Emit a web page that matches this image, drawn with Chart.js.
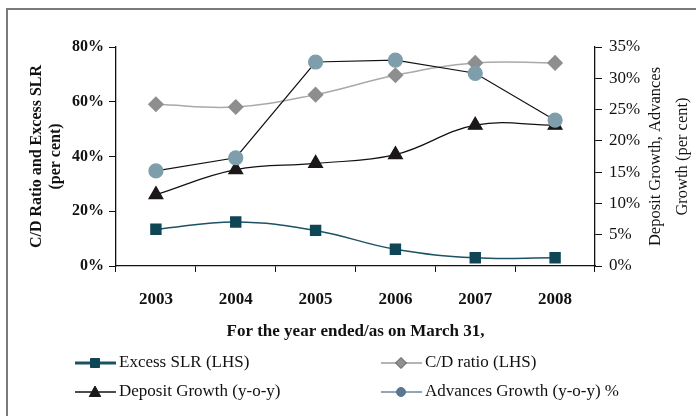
<!DOCTYPE html>
<html>
<head>
<meta charset="utf-8">
<script src="https://cdn.jsdelivr.net/npm/chart.js@4.4.1/dist/chart.umd.min.js"></script>
<style>
html, body { margin: 0; padding: 0; background: #fff; overflow: hidden; }
#wrap { position: relative; width: 696px; height: 416px; }
#frame { position: absolute; left: 6px; top: 8px; width: 740px; height: 460px; border: 2px solid #7a7a7a; box-sizing: border-box; }
canvas { position: absolute; left: 0; top: 0; }
</style>
</head>
<body>
<div id="wrap">
  <div id="frame"></div>
  <canvas id="chart" width="696" height="416"></canvas>
</div>
<script>
// values (per cent)
const years = ['2003', '2004', '2005', '2006', '2007', '2008'];
const excessSlr = [13.4, 16.1, 13.0, 6.1, 3.0, 3.0];        // LHS
const cdRatio = [59.1, 58.1, 62.6, 69.7, 74.2, 74.2];       // LHS
const depositGrowth = [11.4, 15.4, 16.4, 17.8, 22.5, 22.5]; // RHS
const advancesGrowth = [15.2, 17.3, 32.6, 32.9, 30.8, 23.3]; // RHS

const seriesNames = ['Excess SLR (LHS)', 'C/D ratio (LHS)', 'Deposit Growth (y-o-y)', 'Advances Growth (y-o-y) %'];
const leftTitle = ['C/D Ratio and Excess SLR', '(per cent)'];
const rightTitle = ['Deposit Growth, Advances', 'Growth (per cent)'];
const xTitle = 'For the year ended/as on March 31,';

const SERIF = '"Liberation Serif", "DejaVu Serif", serif';

function marker(ctx, style, x, y, r, fill, stroke) {
    ctx.save();
    ctx.fillStyle = fill;
    ctx.strokeStyle = stroke;
    ctx.lineWidth = 1;
    ctx.beginPath();
    if (style === 'rect') {
        ctx.rect(x - r, y - r, 2 * r, 2 * r);
    } else if (style === 'rectRot') {
        ctx.moveTo(x, y - r); ctx.lineTo(x + r, y); ctx.lineTo(x, y + r); ctx.lineTo(x - r, y); ctx.closePath();
    } else if (style === 'triangle') {
        ctx.moveTo(x, y - r); ctx.lineTo(x + r * 0.95, y + r * 0.75); ctx.lineTo(x - r * 0.95, y + r * 0.75); ctx.closePath();
    } else {
        ctx.arc(x, y, r, 0, Math.PI * 2);
    }
    ctx.fill();
    ctx.stroke();
    ctx.restore();
}

// 2x2 legend under the axis title
const gridLegend = {
    id: 'gridLegend',
    afterDraw(chart) {
        const ctx = chart.ctx;
        const cols = [75, 381];
        const rows = [363, 392];
        const look = [
            { line: '#1c5263', lw: 3, style: 'rect', r: 4.5, fill: '#0e4656' },
            { line: '#b4b4b4', lw: 2, style: 'rectRot', r: 5.5, fill: '#909090', stroke: '#555' },
            { line: '#111', lw: 1.3, style: 'triangle', r: 6, fill: '#1a1716' },
            { line: '#6b89a0', lw: 1.5, style: 'circle', r: 4.5, fill: '#5a7791' }
        ];
        ctx.save();
        chart.data.datasets.forEach((ds, i) => {
            const x = cols[i % 2];
            const y = rows[Math.floor(i / 2)];
            const l = look[i];
            ctx.strokeStyle = l.line;
            ctx.lineWidth = l.lw;
            ctx.beginPath();
            ctx.moveTo(x, y);
            ctx.lineTo(x + 41, y);
            ctx.stroke();
            marker(ctx, l.style, x + 20, y, l.r, l.fill, l.stroke || l.fill);
            ctx.fillStyle = '#111';
            ctx.font = '17px ' + SERIF;
            ctx.textAlign = 'left';
            ctx.textBaseline = 'middle';
            ctx.fillText(ds.label, x + 44, y);
        });
        ctx.restore();
    }
};

// right axis title reads bottom-to-top like the left one
const rightAxisTitle = {
    id: 'rightAxisTitle',
    afterDraw(chart) {
        const ctx = chart.ctx;
        const a = chart.chartArea;
        const cy = (a.top + a.bottom) / 2;
        const xs = [656, 683];
        ctx.save();
        ctx.fillStyle = '#111';
        ctx.font = '16.5px ' + SERIF;
        ctx.textAlign = 'center';
        ctx.textBaseline = 'middle';
        rightTitle.forEach((t, i) => {
            ctx.save();
            ctx.translate(xs[i], cy);
            ctx.rotate(-Math.PI / 2);
            ctx.fillText(t, 0, 0);
            ctx.restore();
        });
        ctx.restore();
    }
};

const ctx = document.getElementById('chart');
new Chart(ctx, {
    type: 'line',
    data: {
        labels: years,
        datasets: [{
            label: seriesNames[0],
            data: excessSlr,
            yAxisID: 'yL',
            borderColor: '#1c5263',
            borderWidth: 1.5,
            backgroundColor: '#0e4656',
            pointBackgroundColor: '#0e4656',
            pointBorderColor: '#0e4656',
            pointStyle: 'rect',
            pointRadius: 7,
            tension: 0.4,
            order: 3
        }, {
            label: seriesNames[1],
            data: cdRatio,
            yAxisID: 'yL',
            borderColor: '#a9a9a9',
            borderWidth: 1.5,
            backgroundColor: '#8e8e8e',
            pointBackgroundColor: '#8e8e8e',
            pointBorderColor: '#8e8e8e',
            pointStyle: 'rectRot',
            pointRadius: 7,
            tension: 0.4,
            order: 2
        }, {
            label: seriesNames[2],
            data: depositGrowth,
            yAxisID: 'yR',
            borderColor: '#111',
            borderWidth: 1.2,
            backgroundColor: '#1a1716',
            pointBackgroundColor: '#1a1716',
            pointBorderColor: '#1a1716',
            pointStyle: 'triangle',
            pointRadius: 8,
            tension: 0.4,
            order: 1
        }, {
            label: seriesNames[3],
            data: advancesGrowth,
            yAxisID: 'yR',
            borderColor: '#111',
            borderWidth: 1.2,
            backgroundColor: '#7f9eab',
            pointBackgroundColor: '#7f9eab',
            pointBorderColor: '#7f9eab',
            pointStyle: 'circle',
            pointRadius: 7,
            tension: 0,
            order: 0
        }]
    },
    options: {
        responsive: false,
        devicePixelRatio: 1,
        animation: false,
        layout: { padding: { top: 47, bottom: 70, left: 0, right: 0 } },
        plugins: {
            legend: { display: false },
            tooltip: { enabled: false }
        },
        scales: {
            x: {
                offset: true,
                grid: { offset: true, drawOnChartArea: false, drawTicks: true, tickLength: 6, color: '#111' },
                border: { color: '#111', width: 1.3 },
                ticks: { color: '#111', font: { family: SERIF, size: 17, weight: 'bold' }, padding: 17 },
                title: {
                    display: true,
                    text: xTitle,
                    color: '#111',
                    font: { family: SERIF, size: 17, weight: 'bold' },
                    padding: { top: 0, bottom: 4 }
                },
                afterFit(scale) { scale.height = 80; }
            },
            yL: {
                position: 'left',
                min: 0,
                max: 80,
                grid: { drawOnChartArea: false, tickLength: 7, color: '#111' },
                border: { color: '#111', width: 1.3 },
                ticks: {
                    stepSize: 20,
                    color: '#111',
                    padding: 5,
                    font: { family: SERIF, size: 16, weight: 'bold' },
                    callback: v => v + '%'
                },
                title: {
                    display: true,
                    text: leftTitle,
                    color: '#111',
                    font: { family: SERIF, size: 16, weight: 'bold' },
                    padding: { top: 27, bottom: 0 }
                },
                afterFit(scale) { scale.width = 116; }
            },
            yR: {
                position: 'right',
                min: 0,
                max: 35,
                grid: { drawOnChartArea: false, tickLength: 7, color: '#111' },
                border: { color: '#111', width: 1.3 },
                ticks: {
                    stepSize: 5,
                    color: '#111',
                    padding: 7,
                    font: { family: SERIF, size: 17 },
                    callback: v => v + '%'
                },
                afterFit(scale) { scale.width = 101; }
            }
        }
    },
    plugins: [gridLegend, rightAxisTitle]
});
</script>
</body>
</html>
